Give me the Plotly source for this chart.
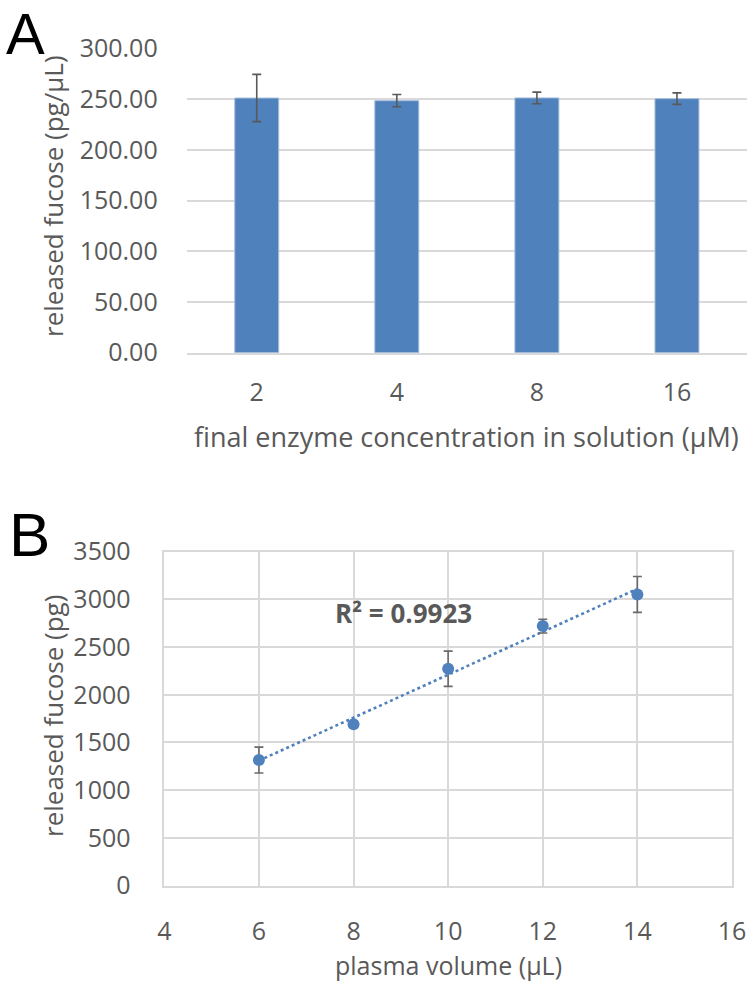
import numpy as np
import plotly.graph_objects as go

# ---------------- data ----------------
conc_labels = ["2", "4", "8", "16"]
fucose_a = [251.0, 248.4, 251.1, 250.4]
fucose_a_err = [23.3, 6.0, 5.7, 5.7]

plasma_volume = [6, 8, 10, 12, 14]
fucose_b = [1315, 1690, 2273, 2720, 3052]
fucose_b_err = [136, 25, 185, 72, 188]

r2_label = "R² = 0.9923"

# ---------------- styles ----------------
W, H = 748, 984
def px(x):
    return x / W
def py(y):
    return 1 - y / H

BLUE = "#4F81BD"
GRID = "#D9D9D9"
TXT = "#595959"
ERR = "#595959"
FONT = "Open Sans"

fig = go.Figure()

fig.add_trace(go.Bar(
    x=conc_labels, y=fucose_a,
    marker=dict(color=BLUE, line=dict(color="#A7BEDC", width=1)),
    error_y=dict(type="data", array=fucose_a_err, color=ERR, thickness=1.6, width=4.5),
    xaxis="x", yaxis="y", showlegend=False,
))

coef = np.polyfit(plasma_volume, fucose_b, 1)
trend_x = [plasma_volume[0], plasma_volume[-1]]
trend_y = list(np.polyval(coef, trend_x))
fig.add_trace(go.Scatter(
    x=trend_x, y=trend_y, mode="lines",
    line=dict(color=BLUE, width=2.6, dash="dot"),
    xaxis="x2", yaxis="y2", showlegend=False,
))
fig.add_trace(go.Scatter(
    x=plasma_volume, y=fucose_b, mode="markers",
    marker=dict(color=BLUE, size=12),
    error_y=dict(type="data", array=fucose_b_err, color="#6A6A6A", thickness=1.6, width=4.5),
    xaxis="x2", yaxis="y2", showlegend=False,
))

tickfont = dict(family=FONT, size=25, color=TXT)

fig.update_layout(
    width=W, height=H,
    margin=dict(l=0, r=0, t=0, b=0),
    paper_bgcolor="white", plot_bgcolor="white",
    bargap=0.686,
    xaxis=dict(
        domain=[px(186.7), px(747)], anchor="y", type="category", automargin=False,
        showline=True, linecolor=GRID, linewidth=1.5,
        showgrid=False, ticks="", tickfont=tickfont, ticklabelstandoff=17,
    ),
    yaxis=dict(
        domain=[py(352.7), py(48.3)], anchor="x", range=[0, 300], automargin=False,
        tickvals=[0, 50, 100, 150, 200, 250, 300], tickformat=".2f",
        showgrid=True, gridcolor=GRID, gridwidth=1.5, zeroline=False,
        showline=False, ticks="", tickfont=tickfont, ticklabelstandoff=28,
    ),
    xaxis2=dict(
        domain=[px(164.3), px(732)], anchor="y2", range=[4, 16], automargin=False,
        tickvals=[4, 6, 8, 10, 12, 14, 16],
        showgrid=True, gridcolor=GRID, gridwidth=1.5, zeroline=False,
        showline=True, mirror=True, linecolor=GRID, linewidth=1.5,
        ticks="", tickfont=tickfont, ticklabelstandoff=23,
    ),
    yaxis2=dict(
        domain=[py(885.5), py(551.7)], anchor="x2", range=[0, 3500], automargin=False,
        tickvals=[0, 500, 1000, 1500, 2000, 2500, 3000, 3500],
        showgrid=True, gridcolor=GRID, gridwidth=1.5, zeroline=False,
        showline=True, mirror=True, linecolor=GRID, linewidth=1.5,
        ticks="", tickfont=tickfont, ticklabelstandoff=27,
    ),
)

titlefont = dict(family=FONT, size=26, color=TXT)
ann = [
    dict(text="A", x=px(5), y=py(0), xanchor="left", yanchor="top", borderpad=0,
         font=dict(family="Liberation Sans", size=58, color="black")),
    dict(text="B", x=px(7), y=py(534), xanchor="left", yanchor="middle",
         font=dict(family="Liberation Sans", size=62, color="black")),
    dict(text="released fucose (pg/µL)", x=px(53), y=py(196), textangle=-90,
         xanchor="center", yanchor="middle", font=titlefont),
    dict(text="final enzyme concentration in solution (µM)", x=px(466.5), y=py(436),
         xanchor="center", yanchor="middle", font=dict(family=FONT, size=27, color=TXT)),
    dict(text="released fucose (pg)", x=px(53), y=py(716), textangle=-90,
         xanchor="center", yanchor="middle", font=titlefont),
    dict(text="plasma volume (µL)", x=px(449), y=py(965),
         xanchor="center", yanchor="middle", font=dict(family=FONT, size=25, color=TXT)),
    dict(text="<b>" + r2_label + "</b>", x=9.05, y=2855, xref="x2", yref="y2",
         showarrow=False, xanchor="center", yanchor="middle",
         font=dict(family=FONT, size=26, color=TXT)),
]
for a in ann:
    a.setdefault("xref", "paper")
    a.setdefault("yref", "paper")
    a["showarrow"] = False
fig.update_layout(annotations=ann)

fig.write_html(
    "out.html",
    config={"displayModeBar": False},
    post_script="document.body.style.margin='0';document.body.style.overflow='hidden';",
)
